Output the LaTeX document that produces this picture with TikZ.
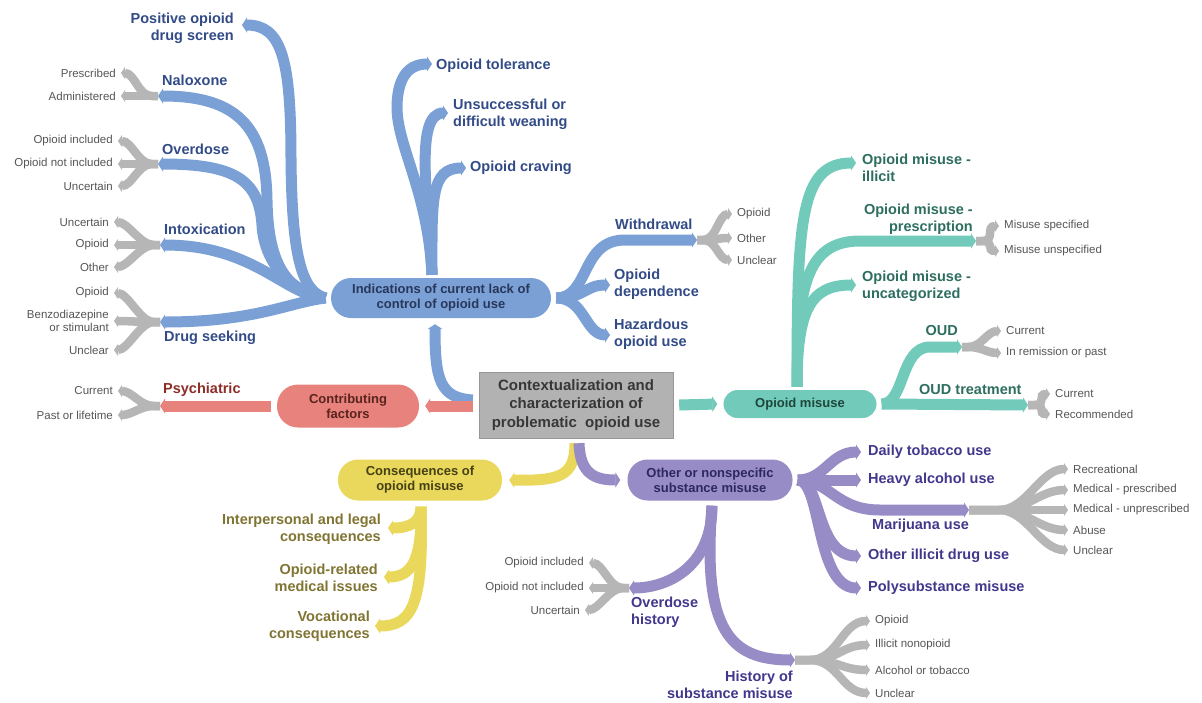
\documentclass[tikz,border=0pt]{standalone}
\usepackage{fontspec}
\setmainfont{Liberation Sans}
\usetikzlibrary{arrows.meta,calc}
\definecolor{cblue}{RGB}{122,160,214}
\definecolor{tblue}{RGB}{50,75,135}
\definecolor{cteal}{RGB}{114,202,186}
\definecolor{tteal}{RGB}{45,110,95}
\definecolor{csal}{RGB}{231,131,124}
\definecolor{tsal}{RGB}{140,45,40}
\definecolor{cyel}{RGB}{233,216,92}
\definecolor{tyel}{RGB}{128,116,50}
\definecolor{cpur}{RGB}{152,140,198}
\definecolor{tpur}{RGB}{65,55,140}
\definecolor{cgray}{RGB}{182,182,182}
\definecolor{tgray}{RGB}{85,85,85}
\definecolor{cbox}{RGB}{178,178,178}
\definecolor{tind}{RGB}{40,55,90}
\definecolor{tcon}{RGB}{90,35,30}
\definecolor{tom}{RGB}{30,70,60}
\definecolor{tcons}{RGB}{70,65,20}
\definecolor{toth}{RGB}{45,40,95}
\definecolor{tcen}{RGB}{55,55,55}
\newcommand\myforkL[2]{\draw[gf] (#1) -- ++(-6,0) .. controls +(-14,0) and +(14,0) .. ($(#2.east)+(5,0)$);}
\newcommand\myforkR[2]{\draw[gf] (#1) -- ++(6,0) .. controls +(14,0) and +(-14,0) .. ($(#2.west)+(-5,0)$);}
\newcommand\myfanR[3]{\draw[gf] (#1) -- ++(#3,0) .. controls +(28,0) and +(-28,0) .. ($(#2.west)+(-5,0)$);}
\tikzset{
  br/.style={line width=11pt, -{Triangle[length=5pt,width=15pt]}},
  gf/.style={line width=8.5pt, draw=cgray, -{Triangle[length=4pt,width=12pt]}},
  lab/.style={font=\bfseries\fontsize{14.5}{17}\selectfont, inner sep=0pt, align=left},
  labr/.style={lab, align=right},
  leaf/.style={font=\fontsize{11.5}{13.5}\selectfont, text=tgray, inner sep=0pt, align=right},
  pill/.style={font=\bfseries\fontsize{13}{15}\selectfont, align=center, inner sep=0pt},
}
\begin{document}
\begin{tikzpicture}[x=1pt,y=-1pt]
\useasboundingbox (0,0) rectangle (1202,702);

% ---------- main nodes ----------
\node[fill=cbox, draw=cbox!85!black, line width=0.4pt, minimum width=194pt, minimum height=66pt, font=\bfseries\fontsize{15}{18.5}\selectfont, text=tcen, align=center, inner sep=0pt] (cen) at (576,405) {Contextualization and\\characterization of\\problematic\ \ opioid use};
\node[pill, fill=cblue, text=tind, minimum width=220pt, minimum height=40pt, rounded corners=20pt] (ind) at (441,298) {Indications of current lack of\\control of opioid use};
\node[pill, fill=csal, text=tcon, minimum width=142pt, minimum height=43pt, rounded corners=21pt] (con) at (348,406) {Contributing\\factors};
\node[pill, fill=cteal, text=tom, minimum width=153pt, minimum height=28pt, rounded corners=14pt] (om) at (800,404) {Opioid misuse};
\node[pill, fill=cyel, text=tcons, minimum width=164pt, minimum height=41pt, rounded corners=20pt] (cons) at (420,480) {Consequences of\\opioid misuse};
\node[pill, fill=cpur, text=toth, minimum width=165pt, minimum height=41pt, rounded corners=20pt] (oth) at (710,480) {Other or nonspecific\\substance misuse};

% ---------- hub coordinates ----------
\coordinate (indW) at ($(ind.west)+(-5,0)$);
\coordinate (indE) at ($(ind.east)+(5,0)$);
\coordinate (indN) at ($(ind.north)+(-9,-3)$);
\coordinate (omN) at ($(om.north)+(-3,-3)$);
\coordinate (omE) at ($(om.east)+(5,0)$);
\coordinate (consS) at ($(cons.south)+(1,6)$);
\coordinate (othE) at ($(oth.east)+(5,0)$);
\coordinate (othS) at ($(oth.south)+(2,5)$);

% ---------- branch ends ----------
\coordinate (posE) at (242,25);
\coordinate (nalE) at (158,96);
\coordinate (ovdE) at (158,164);
\coordinate (intE) at (160,245);
\coordinate (dsE) at (160,322);
\coordinate (tolE) at (432,64);
\coordinate (unsE) at (448,113);
\coordinate (crvE) at (466,168);
\coordinate (wdE) at (697,240);
\coordinate (depE) at (610,285);
\coordinate (hazE) at (610,335);
\coordinate (psyE) at (160,406);
\coordinate (illE) at (856,163);
\coordinate (preE) at (976,241);
\coordinate (uncE) at (856,285);
\coordinate (oudE) at (962,347);
\coordinate (oudtE) at (1028,405);
\coordinate (ipE) at (388,528);
\coordinate (medE) at (384,577);
\coordinate (vocE) at (375,626);
\coordinate (tobE) at (861,452);
\coordinate (alcE) at (861,480);
\coordinate (mjE) at (969,510);
\coordinate (ilE) at (861,556);
\coordinate (polE) at (861,588);
\coordinate (odhE) at (629,588);
\coordinate (hsmE) at (795,660);

% ---------- labels ----------
\node[labr, text=tblue, anchor=east] (pos) at (234,28) {Positive opioid\\drug screen};
\node[lab, text=tblue, anchor=west] (nal) at (162,80) {Naloxone};
\node[lab, text=tblue, anchor=west] (ovd) at (162,149) {Overdose};
\node[lab, text=tblue, anchor=west] (intx) at (164,229) {Intoxication};
\node[lab, text=tblue, anchor=west] (dsk) at (164,338) {Drug seeking};
\node[lab, text=tblue, anchor=west] (tol) at (436,66) {Opioid tolerance};
\node[lab, text=tblue, anchor=west] (uns) at (453,114) {Unsuccessful or\\difficult weaning};
\node[lab, text=tblue, anchor=west] (crv) at (470,168) {Opioid craving};
\node[lab, text=tblue, anchor=west] (wd) at (615,224) {Withdrawal};
\node[lab, text=tblue, anchor=west] (dep) at (614,284) {Opioid\\dependence};
\node[lab, text=tblue, anchor=west] (haz) at (614,334) {Hazardous\\opioid use};
\node[lab, text=tsal, anchor=west] (psy) at (163,390) {Psychiatric};
\node[lab, text=tteal, anchor=west] (ill) at (862,168) {Opioid misuse -\\illicit};
\node[labr, text=tteal, anchor=east] (pre) at (973,219) {Opioid misuse -\\prescription};
\node[lab, text=tteal, anchor=west] (unc) at (862,286) {Opioid misuse -\\uncategorized};
\node[lab, text=tteal, anchor=east] (oud) at (958,331) {OUD};
\node[lab, text=tteal, anchor=west] (oudt) at (919,390) {OUD treatment};
\node[labr, text=tyel, anchor=east] (ip) at (381,529) {Interpersonal and legal\\consequences};
\node[labr, text=tyel, anchor=east] (med) at (378,578) {Opioid-related\\medical issues};
\node[labr, text=tyel, anchor=east] (voc) at (370,626) {Vocational\\consequences};
\node[lab, text=tpur, anchor=west] (tob) at (868,452) {Daily tobacco use};
\node[lab, text=tpur, anchor=west] (alc) at (868,480) {Heavy alcohol use};
\node[lab, text=tpur, anchor=west] (mj) at (872,526) {Marijuana use};
\node[lab, text=tpur, anchor=west] (il) at (868,556) {Other illicit drug use};
\node[lab, text=tpur, anchor=west] (pol) at (868,588) {Polysubstance misuse};
\node[lab, text=tpur, anchor=west] (odh) at (631,612) {Overdose\\history};
\node[labr, text=tpur, anchor=east] (hsm) at (793,685) {History of\\substance misuse};

% ---------- leaves ----------
\node[leaf, anchor=east] (n1) at (116,73) {Prescribed};
\node[leaf, anchor=east] (n2) at (116,96) {Administered};
\node[leaf, anchor=east] (o1) at (113,141) {Opioid included};
\node[leaf, anchor=east] (o2) at (113,164) {Opioid not included};
\node[leaf, anchor=east] (o3) at (113,186) {Uncertain};
\node[leaf, anchor=east] (i1) at (109,222) {Uncertain};
\node[leaf, anchor=east] (i2) at (109,245) {Opioid};
\node[leaf, anchor=east] (i3) at (109,267) {Other};
\node[leaf, anchor=east] (d1) at (109,293) {Opioid};
\node[leaf, anchor=east] (d2) at (109,321) {Benzodiazepine\\or stimulant};
\node[leaf, anchor=east] (d3) at (109,350) {Unclear};
\node[leaf, anchor=east] (p1) at (113,391) {Current};
\node[leaf, anchor=east] (p2) at (113,415) {Past or lifetime};
\node[leaf, anchor=west] (w1) at (737,214) {Opioid};
\node[leaf, anchor=west] (w2) at (737,238) {Other};
\node[leaf, anchor=west] (w3) at (737,260) {Unclear};
\node[leaf, anchor=west] (m1) at (1004,226) {Misuse specified};
\node[leaf, anchor=west] (m2) at (1004,251) {Misuse unspecified};
\node[leaf, anchor=west] (u1) at (1006,331) {Current};
\node[leaf, anchor=west] (u2) at (1006,353) {In remission or past};
\node[leaf, anchor=west] (t1) at (1055,394) {Current};
\node[leaf, anchor=west] (t2) at (1055,414) {Recommended};
\node[leaf, anchor=west] (j1) at (1073,469) {Recreational};
\node[leaf, anchor=west] (j2) at (1073,490) {Medical - prescribed};
\node[leaf, anchor=west] (j3) at (1073,510) {Medical - unprescribed};
\node[leaf, anchor=west] (j4) at (1073,530) {Abuse};
\node[leaf, anchor=west] (j5) at (1073,550) {Unclear};
\node[leaf, anchor=east] (h1) at (584,563) {Opioid included};
\node[leaf, anchor=east] (h2) at (584,588) {Opioid not included};
\node[leaf, anchor=east] (h3) at (580,610) {Uncertain};
\node[leaf, anchor=west] (s1) at (875,621) {Opioid};
\node[leaf, anchor=west] (s2) at (875,645) {Illicit nonopioid};
\node[leaf, anchor=west] (s3) at (875,670) {Alcohol or tobacco};
\node[leaf, anchor=west] (s4) at (875,693) {Unclear};

% ---------- central connectors ----------
\draw[br,cblue] ($(cen.west)+(-6,-5)$) .. controls (440,398) and (435,380) .. ($(ind.south)+(-6,6)$);
\draw[br,csal] ($(cen.west)+(-6,1)$) -- ($(con.east)+(6,0)$);
\draw[br,cteal] ($(cen.east)+(6,0)$) -- ($(om.west)+(-6,0)$);
\draw[br,cyel] ($(cen.south)+(-1,5)$) .. controls (575,476) and (560,481) .. ($(cons.east)+(7,0)$);
\draw[br,cpur] ($(cen.south)+(3,5)$) .. controls (580,474) and (595,480) .. ($(oth.west)+(-7,0)$);

% ---------- blue branches ----------
\draw[br,cblue] (indW) .. controls (300,292) and (292,250) .. (291,160) .. controls (291,60) and (282,25) .. (posE);
\draw[br,cblue] (indW) .. controls (285,292) and (268,262) .. (267,200) .. controls (266,125) and (235,96) .. (nalE);
\draw[br,cblue] (indW) .. controls (290,292) and (264,262) .. (262,225) .. controls (259,180) and (235,164) .. (ovdE);
\draw[br,cblue] (indW) .. controls (285,296) and (255,245) .. (intE);
\draw[br,cblue] (indW) .. controls (290,302) and (255,322) .. (dsE);
\draw[br,cblue] (indN) .. controls (428,190) and (396,145) .. (397,105) .. controls (398,75) and (410,64) .. (tolE);
\draw[br,cblue] (indN) .. controls (428,200) and (414,113) .. (unsE);
\draw[br,cblue] (indN) .. controls (432,200) and (430,168) .. (crvE);
\draw[br,cblue] (indE) .. controls (590,298) and (580,240) .. (625,240) -- (wdE);
\draw[br,cblue] (indE) .. controls (585,298) and (585,285) .. (depE);
\draw[br,cblue] (indE) .. controls (585,298) and (585,335) .. (hazE);

% ---------- salmon ----------
\draw[br,csal] ($(con.west)+(-6,0)$) -- (psyE);

% ---------- teal ----------
\draw[br,cteal] (omN) .. controls (797,220) and (800,163) .. (illE);
\draw[br,cteal] (omN) .. controls (797,290) and (805,241) .. (860,241) -- (preE);
\draw[br,cteal] (omN) .. controls (797,310) and (810,285) .. (uncE);
\draw[br,cteal] (omE) .. controls (905,404) and (900,347) .. (930,347) -- (oudE);
\draw[br,cteal] (omE) -- (oudtE);

% ---------- yellow ----------
\draw[br,cyel] (consS) .. controls (421,522) and (410,528) .. (ipE);
\draw[br,cyel] (consS) .. controls (422,560) and (412,577) .. (medE);
\draw[br,cyel] (consS) .. controls (424,605) and (412,626) .. (vocE);

% ---------- purple ----------
\draw[br,cpur] (othE) .. controls (825,480) and (830,452) .. (tobE);
\draw[br,cpur] (othE) -- (alcE);
\draw[br,cpur] (othE) .. controls (830,480) and (835,510) .. (880,510) -- (mjE);
\draw[br,cpur] (othE) .. controls (822,480) and (815,556) .. (ilE);
\draw[br,cpur] (othE) .. controls (822,480) and (815,588) .. (polE);
\draw[br,cpur] (othS) .. controls (712,565) and (670,588) .. (odhE);
\draw[br,cpur] (othS) .. controls (702,630) and (730,660) .. (hsmE);

% ---------- gray forks ----------
\myforkL{nalE}{n1}\myforkL{nalE}{n2}
\myforkL{ovdE}{o1}\myforkL{ovdE}{o2}\myforkL{ovdE}{o3}
\myforkL{intE}{i1}\myforkL{intE}{i2}\myforkL{intE}{i3}
\myforkL{dsE}{d1}\myforkL{dsE}{d2}\myforkL{dsE}{d3}
\myforkL{psyE}{p1}\myforkL{psyE}{p2}
\myforkR{wdE}{w1}\myforkR{wdE}{w2}\myforkR{wdE}{w3}
\myforkR{preE}{m1}\myforkR{preE}{m2}
\myforkR{oudE}{u1}\myforkR{oudE}{u2}
\myforkR{oudtE}{t1}\myforkR{oudtE}{t2}
\myfanR{mjE}{j1}{30}\myfanR{mjE}{j2}{30}\myfanR{mjE}{j3}{30}\myfanR{mjE}{j4}{30}\myfanR{mjE}{j5}{30}
\myforkL{odhE}{h1}\myforkL{odhE}{h2}\myforkL{odhE}{h3}
\myfanR{hsmE}{s1}{15}\myfanR{hsmE}{s2}{15}\myfanR{hsmE}{s3}{15}\myfanR{hsmE}{s4}{15}
\end{tikzpicture}
\end{document}
